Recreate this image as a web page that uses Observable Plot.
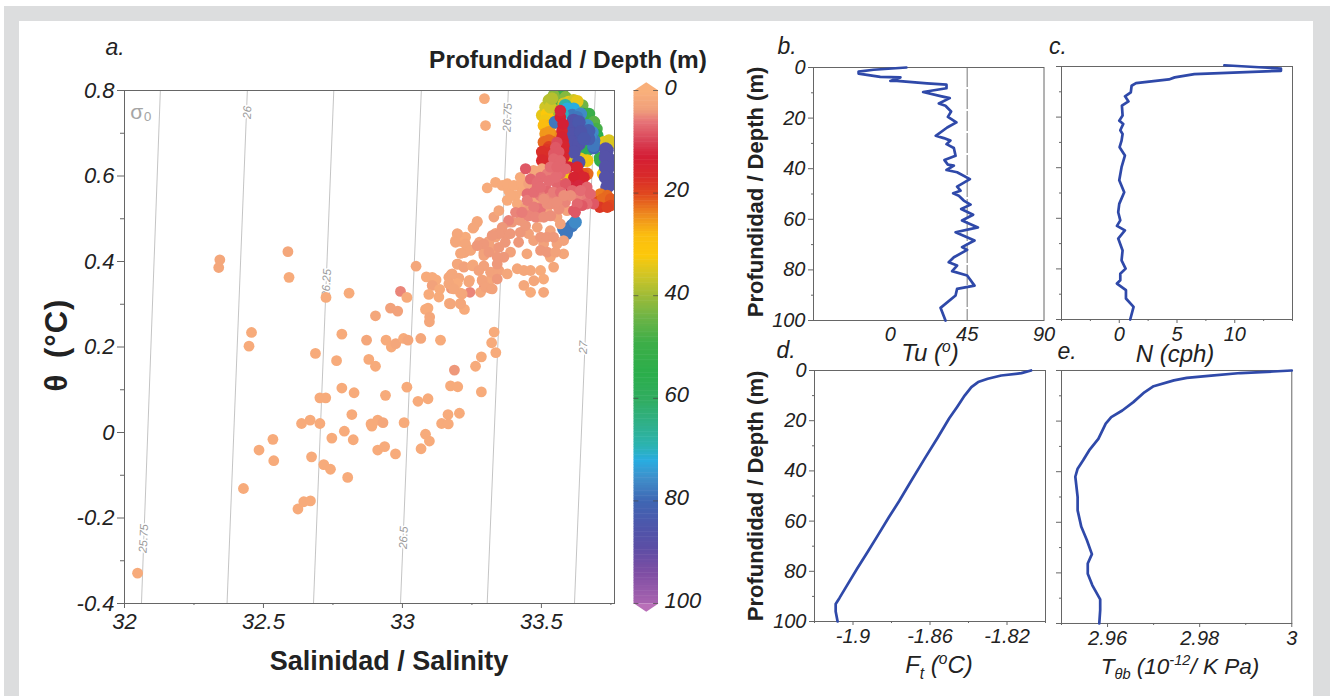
<!DOCTYPE html>
<html><head><meta charset="utf-8">
<script src="https://cdn.jsdelivr.net/npm/d3@7"></script>
<script src="https://cdn.jsdelivr.net/npm/@observablehq/plot@0.6"></script>
<style>
html,body{margin:0;padding:0;background:#fff}
#page{position:relative;width:1330px;height:696px;overflow:hidden;background:#fff;font-family:"Liberation Sans",Arial,sans-serif}
.band{position:absolute;background:#dcddde}
#page svg{position:absolute;overflow:visible;background:transparent}
.lab{position:absolute;white-space:nowrap;transform:translate(-50%,-50%);color:#222;line-height:1}
.lab sup{font-size:.65em;line-height:0}
.lab sub{font-size:.65em;line-height:0}
</style></head><body><div id="page"></div>
<script>
// [salinity, theta (°C), depth (m)], grouped in drawing order
const greenDots = [[33.551,.792,44],[33.575,.792,47],[33.556,.784,47],[33.562,.792,50],[33.568,.773,45],[33.545,.769,48],[33.640,.761,55],[33.647,.765,44],[33.652,.745,55],[33.671,.745,50],[33.682,.726,50],[33.689,.726,46],[33.698,.710,48],[33.701,.695,55],[33.664,.671,58],[33.659,.679,58],[33.665,.660,60],[33.647,.664,58],[33.712,.636,56],[33.711,.642,52]];
const yellowDots = [[33.503,.742,34],[33.515,.761,36],[33.527,.777,38],[33.544,.788,42],[33.587,.784,42],[33.551,.753,40],[33.533,.730,33],[33.520,.745,32],[33.514,.730,33],[33.532,.761,36],[33.538,.781,38],[33.598,.773,34],[33.580,.769,36],[33.616,.777,36],[33.629,.775,34],[33.730,.679,34],[33.748,.675,35],[33.725,.679,34],[33.743,.683,35],[33.592,.597,32],[33.587,.593,33],[33.652,.636,33],[33.628,.642,34],[33.641,.640,34],[33.665,.636,33],[33.593,.652,33],[33.611,.636,35],[33.722,.605,30]];
const orangeDots = [[33.509,.718,28],[33.533,.718,27],[33.520,.714,28],[33.515,.699,25],[33.539,.695,24],[33.527,.702,25],[33.509,.679,22],[33.539,.679,21],[33.527,.683,22],[33.527,.667,19],[33.521,.660,18],[33.514,.640,17],[33.503,.656,17],[33.539,.656,17],[33.503,.636,16],[33.539,.632,16],[33.665,.605,22]];
const blueDots = [[33.604,.749,75],[33.616,.757,72],[33.586,.765,68],[33.593,.757,72],[33.611,.742,78],[33.575,.745,70],[33.641,.745,76],[33.665,.718,76],[33.683,.702,76],[33.689,.683,78],[33.689,.666,80],[33.676,.691,76],[33.688,.671,78],[33.628,.737,78],[33.550,.726,78],[33.671,.687,82],[33.592,.472,78],[33.610,.484,78],[33.580,.476,78],[33.622,.492,76],[33.590,.465,78]];
const purpleDots = [[33.616,.730,86],[33.622,.714,86],[33.628,.691,86],[33.622,.667,86],[33.658,.699,84],[33.670,.706,82],[33.610,.718,86],[33.635,.726,84],[33.610,.699,86],[33.641,.703,85],[33.610,.679,86],[33.635,.675,86],[33.617,.656,86],[33.653,.687,84],[33.634,.632,86],[33.736,.660,87],[33.742,.640,87],[33.742,.621,87],[33.742,.597,87],[33.742,.578,87],[33.731,.663,87],[33.731,.644,87],[33.731,.621,87],[33.731,.597,87],[33.736,.574,87]];
const redDots = [[33.652,.605,21],[33.634,.605,15],[33.616,.582,14],[33.640,.589,16],[33.580,.660,15],[33.574,.706,15],[33.568,.738,14],[33.578,.683,14],[33.568,.753,12],[33.578,.722,13],[33.574,.691,14],[33.581,.671,15],[33.581,.644,15],[33.599,.621,13],[33.629,.621,15],[33.653,.597,15],[33.617,.597,14],[33.605,.574,12],[33.635,.578,12],[33.712,.558,23],[33.700,.539,20],[33.730,.546,21],[33.724,.535,20],[33.742,.539,19],[33.737,.554,22],[33.719,.546,22],[33.749,.546,21],[33.749,.531,20],[33.710,.527,18],[33.737,.527,19]];
const sparseDots = [[32.047,-.329,1],[32.339,.386,2],[32.343,.404,2],[32.588,.423,2],[32.592,.363,1],[32.457,.234,1],[32.448,.202,1],[32.428,-.131,1],[32.484,-.041,1],[32.534,-.016,1],[32.537,-.066,1],[32.624,-.179,1],[32.645,-.162,1],[32.669,-.160,1],[32.637,.021,1],[32.668,.029,1],[32.703,.021,1],[32.673,-.057,1],[32.717,-.075,1],[32.741,-.086,1],[32.803,-.105,1],[32.746,-.013,1],[32.791,.003,1],[32.823,-.017,1],[32.818,.042,1],[32.703,.081,1],[32.724,.081,1],[32.782,.104,1],[32.826,.093,1],[32.687,.185,1],[32.763,.168,1],[32.782,.230,1],[32.725,.316,1],[32.808,.326,1],[32.871,.216,2],[32.879,.171,1],[32.903,.155,1],[32.903,.273,2],[32.941,.216,1],[32.960,.200,1],[32.976,.208,2],[32.957,.291,3],[32.983,.284,3],[32.993,.330,5],[33.016,.316,1],[33.049,.389,2],[33.004,.220,1],[33.020,.216,2],[33.066,.220,2],[33.137,.216,1],[32.939,.087,1],[33.016,.106,1],[33.056,.073,1],[33.092,.079,1],[33.173,.109,1],[33.199,.107,1],[33.187,.146,4],[33.284,.095,1],[33.263,.155,1],[33.284,.177,1],[33.336,.187,1],[33.321,.210,1],[33.330,.235,1],[32.890,.015,1],[32.887,.020,1],[32.911,.029,1],[32.930,.023,2],[33.006,.023,1],[32.911,-.041,1],[32.936,-.033,1],[32.975,-.050,1],[33.083,-.004,1],[33.097,-.020,1],[33.067,-.038,1],[33.141,.021,1],[33.165,.020,1],[33.164,.042,1],[33.205,.045,1],[33.092,.291,1],[33.083,.288,1],[33.098,.270,2],[33.097,.259,2],[33.169,.302,1],[33.223,.288,1],[33.209,.302,1],[33.086,.364,1],[33.107,.363,1],[33.121,.357,1],[33.107,.344,3],[33.095,.323,1],[33.131,.317,1],[33.134,.335,1],[33.176,.337,4],[33.175,.369,1],[33.167,.363,2],[33.199,.394,1],[33.221,.388,1],[33.254,.392,1],[33.241,.356,1],[33.243,.328,5],[33.295,.341,5],[33.281,.328,2],[33.317,.337,2],[33.287,.357,1],[33.319,.359,2],[33.341,.380,2],[33.269,.494,1],[33.254,.478,1],[33.199,.464,1],[33.191,.449,1],[33.227,.457,1],[33.209,.447,1],[33.245,.427,1],[33.223,.421,2],[33.277,.445,3],[33.311,.447,3],[33.335,.466,3],[33.293,.420,3],[33.323,.427,3],[33.203,.361,2],[33.209,.326,1],[33.197,.349,1],[33.295,.781,1],[33.299,.718,1]];
const lightDots = [[33.197,.465,2],[33.191,.445,2],[33.227,.441,2],[33.209,.419,2],[33.245,.426,2],[33.278,.441,3],[33.293,.414,3],[33.317,.433,3],[33.335,.457,3],[33.365,.465,4],[33.382,.492,4],[33.329,.504,3],[33.347,.519,2],[33.269,.492,2],[33.257,.480,2],[33.197,.394,2],[33.221,.387,3],[33.179,.371,2],[33.251,.390,2],[33.167,.348,2],[33.185,.336,2],[33.239,.352,2],[33.287,.355,3],[33.299,.340,3],[33.323,.336,3],[33.215,.324,2],[33.173,.301,2],[33.209,.301,2],[33.317,.375,3],[33.347,.379,3],[33.377,.371,2],[33.413,.383,2],[33.389,.422,3],[33.418,.445,4],[33.448,.418,2],[33.437,.379,2],[33.461,.379,2],[33.497,.379,1],[33.508,.359,1],[33.473,.355,2],[33.437,.344,2],[33.461,.328,1],[33.508,.328,2],[33.544,.387,2],[33.532,.410,2],[33.580,.418,2],[33.556,.441,3],[33.508,.441,3],[33.472,.449,3],[33.454,.465,3],[33.485,.480,3],[33.532,.472,3],[33.580,.449,3],[33.365,.410,4],[33.347,.433,4],[33.370,.445,4],[33.388,.465,4],[33.424,.468,4],[33.395,.492,4],[33.424,.496,4],[33.377,.543,1],[33.413,.535,1],[33.305,.572,1],[33.335,.585,1],[33.359,.578,1],[33.382,.566,1],[33.406,.554,1],[33.424,.597,1],[33.430,.566,1],[33.377,.582,1],[33.401,.578,1],[33.389,.554,1],[33.430,.582,1],[33.472,.613,2],[33.502,.617,2],[33.454,.582,3],[33.496,.539,4],[33.544,.535,3],[33.473,.546,3],[33.443,.527,3],[33.454,.519,4],[33.496,.504,3],[33.520,.519,3],[33.556,.504,3],[33.592,.519,3],[33.568,.488,3],[33.443,.484,4],[33.497,.457,4],[33.520,.457,4],[33.544,.457,4],[33.497,.426,4],[33.521,.422,4],[33.551,.422,3],[33.407,.515,5],[33.382,.496,5],[33.359,.480,4],[33.347,.465,4],[33.323,.461,4],[33.293,.441,4],[33.311,.422,4],[33.269,.437,4],[33.341,.410,4],[33.341,.394,4],[33.293,.390,3],[33.275,.379,3],[33.341,.359,4]];
const pinkDots = [[33.443,.617,8],[33.461,.593,7],[33.485,.574,6.5],[33.521,.566,7],[33.556,.582,7],[33.550,.628,7.5],[33.544,.652,8],[33.556,.679,9],[33.568,.605,7],[33.556,.605,6.5],[33.521,.605,5.5],[33.496,.554,5.5],[33.532,.550,5],[33.586,.539,5],[33.485,.523,6.5],[33.496,.523,6],[33.532,.535,4.5],[33.616,.519,8],[33.664,.574,7],[33.652,.550,5.5],[33.688,.535,8],[33.628,.554,5],[33.551,.667,8],[33.563,.656,8],[33.544,.640,7],[33.568,.636,7],[33.532,.621,6.5],[33.556,.621,7],[33.587,.617,7],[33.497,.597,6.5],[33.527,.589,6.5],[33.551,.597,6.5],[33.587,.582,8],[33.485,.585,6.5],[33.449,.558,6.5],[33.449,.543,5.5],[33.473,.562,6.5],[33.497,.574,6.5],[33.544,.562,5.5],[33.569,.562,6.5],[33.611,.566,7],[33.641,.566,6.5],[33.676,.558,7],[33.664,.535,6.5],[33.646,.531,8],[33.629,.535,7],[33.622,.515,8],[33.473,.527,5.5],[33.454,.507,5],[33.430,.515,5.5],[33.479,.504,5],[33.509,.504,4.5],[33.533,.507,4.5],[33.563,.523,4.5],[33.521,.535,4.5],[33.556,.539,4.5],[33.605,.554,4.5],[33.509,.546,4.5],[33.581,.554,4.5]];

// Isopycnals: [sigma label, S at theta -0.4, S at theta 0.8, label S, label theta]
const isopycnals = [["25.75",32.061,32.129,32.069,-.248],["26",32.369,32.442,32.442,.749],["26.25",32.680,32.753,32.727,.349],["26.5",32.993,33.068,33.004,-.246],["26.75",33.305,33.381,33.378,.737],["27",33.619,33.694,33.651,.199]];

const thetaTicks = [-.4,-.2,0,.2,.4,.6,.8];
const thetaMinor = [-.3,-.1,.1,.3,.5,.7];
const salinityTicks = [32,32.5,33,33.5];
const salinityMinor = [32.25,32.75,33.25,33.75];
const depthTicks = [0,20,40,60,80,100];
const depthMinor = [10,30,50,70,90];

const depthStops = [0,3.6,6,9.5,12.7,16.6,20,24,28,32,36,40,44,49,55,60,65,69,72,75.4,80,85,89,94,100];
const colorStops = ["#f9b07b","#f09f7b","#e67377","#d94458","#d41e35","#d92a2a","#e0481f","#ee8a1f","#fbbd10","#fcc80a","#cfc526","#9dbb38","#6eb446","#3dae48","#2bae4b","#31ad60","#2fb08a","#2cb3b0","#29ace0","#3f8fca","#3f66b3","#4e55aa","#5c4ea5","#7f4ea4","#a964b0"];

// Vertical profiles [value, depth]
const tuProfile = [[9.4,0],[-9.8,.9],[-18.6,1.6],[-18.6,2.4],[-5.9,3.7],[5.9,3.9],[0,5.3],[3.9,5.3],[21.5,6.3],[32.9,6.8],[32.9,8.2],[19.2,9.7],[29.4,11.3],[34.8,12.1],[28.4,14.2],[32.3,15.1],[35.6,17.4],[33.7,19.5],[38.7,21.7],[33.3,23.7],[31.3,24.7],[26.6,27],[31.3,27.9],[35.2,28.9],[32.9,30.3],[37.2,31.8],[38.2,34.9],[31.7,36.6],[33.7,38.4],[37.2,38.8],[32.9,40.5],[39.1,41.4],[46.6,44.1],[39.1,47.1],[41.1,48.7],[36.8,49.7],[40.1,50.7],[43,52.6],[47,54.2],[41.5,55.9],[48.5,58.2],[42,60.5],[51.3,63.2],[38.2,65.1],[49.3,68.4],[42,71],[45,72.1],[37.2,75],[34.2,77],[39.1,78.3],[36.2,80.5],[45,82.2],[49.3,86.2],[39.1,87.5],[38.2,90.1],[29.4,95],[32.3,100]];
const nProfile = [[9.1,-.5],[14,.8],[14,1.7],[6.5,3],[4.8,4.3],[4.3,5.1],[1.45,6.6],[1.07,7.6],[1,10.2],[.5,11.8],[.8,13.8],[.23,15.5],[.29,19.4],[0,21.4],[.35,22.7],[.09,25.2],[.29,26.7],[.2,29.3],[.03,31.9],[.49,35.2],[.2,39.8],[0,45],[.43,49.7],[0,54.3],[-.09,57.6],[.09,60.8],[-.2,63],[.49,64.8],[-.09,68],[.29,72.7],[.2,76.6],[.55,79.9],[.09,81.9],[.09,84.5],[-.2,85.8],[.58,88.4],[.58,91.7],[1.24,95],[.95,100]];
const ftProfile = [[-1.8075,0],[-1.8125,1.06],[-1.823,2],[-1.83,3.3],[-1.835,4.6],[-1.8385,6.6],[-1.842,10],[-1.846,14.6],[-1.85,19],[-1.8562,27],[-1.8627,35],[-1.8702,44.5],[-1.876,52],[-1.8813,58.4],[-1.8871,65.7],[-1.8925,72.4],[-1.8979,79],[-1.9031,85.6],[-1.907,90.6],[-1.909,93],[-1.909,96],[-1.908,100]];
const tbProfile = [[3,0],[2.996,.4],[2.9889,1],[2.9825,2],[2.9772,2.9],[2.9744,3.9],[2.97,6.2],[2.968,8.6],[2.9656,12.5],[2.9632,15.8],[2.9608,18.4],[2.9596,21],[2.958,27],[2.956,31.6],[2.9547,35.5],[2.9535,38.8],[2.953,42],[2.9535,50],[2.9535,55.3],[2.9543,61.8],[2.9555,67],[2.9566,72.6],[2.9557,76.3],[2.9557,80.3],[2.9567,84.9],[2.9584,90.5],[2.9584,94.7],[2.9582,100]];

const page = document.getElementById("page");
const FONT = '"Liberation Sans",Arial,sans-serif';
const INK = "#222", AXIS = "#666", BLUE = "#2f49a9";

function band(l,t,w,h){const d=document.createElement("div");d.className="band";d.style.cssText=`left:${l}px;top:${t}px;width:${w}px;height:${h}px`;page.append(d);}
band(4,6,1326,15); band(4,6,15,690); band(1313,6,17,690);

function place(svg,left,top){svg.style.left=left+"px";svg.style.top=top+"px";page.append(svg);}
function label(html,x,y,css,rot){const s=document.createElement("div");s.className="lab";s.innerHTML=html;
  s.style.cssText=`left:${x}px;top:${y}px;${css}`+(rot?`;transform:translate(-50%,-50%) rotate(${rot}deg)`:"");page.append(s);}
const baseStyle = {background:"transparent",fontFamily:FONT,overflow:"visible"};
const colorScale = {type:"linear",domain:depthStops,range:colorStops,interpolate:"rgb"};

function axisSet(kind,major,minor,size,fmt,fontSize,pad){
  const A = kind==="x"?Plot.axisX:Plot.axisY;
  const out=[A({ticks:major,tickFormat:fmt,tickSize:size,tickPadding:pad,fontSize,fontStyle:"italic",label:null,stroke:AXIS,fill:INK})];
  if(minor&&minor.length) out.push(A({ticks:minor,tickFormat:()=>"",tickSize:Math.max(2,size-3),label:null,stroke:AXIS}));
  return out;
}
const fmtT = d=>d===0?"0":String(d);
const dots = (g,r)=>Plot.dot(g,{x:d=>d[0],y:d=>d[1],fill:d=>d[2],r,clip:true});

// Panel a: theta-S
place(Plot.plot({
  width:560,height:560,marginLeft:64,marginRight:6,marginTop:20,marginBottom:27,style:baseStyle,
  x:{domain:[32,33.763]},y:{domain:[-.4,.8]},color:colorScale,
  marks:[
    Plot.link(isopycnals,{x1:d=>d[1],x2:d=>d[2],y1:()=>-.4,y2:()=>.8,stroke:"#bdbdbd",strokeWidth:.9}),
    Plot.text(isopycnals,{x:d=>d[3],y:d=>d[4],text:d=>d[0],rotate:-87,fill:"#9a9a9a",stroke:"white",strokeWidth:3,fontSize:11.5,fontStyle:"italic"}),
    Plot.text(["σ₀"],{x:()=>32.06,y:()=>.75,text:d=>d,fill:"#a5a5a5",fontSize:21}),
    dots(greenDots,6.3),dots(yellowDots,6.3),dots(orangeDots,6.3),dots(blueDots,6.5),dots(purpleDots,6.8),dots(redDots,5.8),
    dots(sparseDots,5.4),dots(lightDots,5.4),dots(pinkDots,5.6),
    Plot.frame({stroke:AXIS,strokeWidth:1}),
    ...axisSet("x",salinityTicks,salinityMinor,5,fmtT,22,5),
    ...axisSet("y",thetaTicks,thetaMinor,7,fmtT,22,3)
  ]}),60,70);

// Colour bar
const ramp=d3.range(0,100,.5);
place(Plot.plot({
  width:90,height:560,marginLeft:13.5,marginRight:52,marginTop:20,marginBottom:27,style:baseStyle,
  x:{domain:[0,1],axis:null},y:{domain:[100,0]},color:colorScale,
  marks:[
    Plot.rect(ramp,{x1:()=>0,x2:()=>1,y1:d=>d,y2:d=>d+.6,fill:d=>d}),
    Plot.line([[0,0],[.5,-1.6],[1,0]],{x:d=>d[0],y:d=>d[1],fill:"#f9b07b",stroke:"none"}),
    Plot.line([[0,100],[.5,101.6],[1,100]],{x:d=>d[0],y:d=>d[1],fill:"#b96fb8",stroke:"none"}),
    Plot.ruleY(depthTicks,{x1:()=>0,x2:()=>.2,stroke:"#444",strokeOpacity:.7}),
    Plot.ruleY(depthTicks,{x1:()=>.8,x2:()=>1,stroke:"#444",strokeOpacity:.7}),
    Plot.axisY({anchor:"right",ticks:depthTicks,tickFormat:fmtT,tickSize:0,tickPadding:6,fontSize:22,fontStyle:"italic",label:null,fill:INK,dy:-3})
  ]}),620,70);

// Profile panels
function profile(o){
  const W=o.x1-o.x0+o.ml+20, H=o.y1-o.y0+12+34;
  place(Plot.plot({
    width:W,height:H,marginLeft:o.ml,marginRight:20,marginTop:12,marginBottom:34,style:baseStyle,
    x:{domain:o.domain},y:{domain:[100,0]},
    marks:[
      ...(o.extra||[]),
      Plot.frame({stroke:AXIS,strokeWidth:1}),
      ...axisSet("x",o.ticks,o.minor,o.xSize,o.fmt||fmtT,20,o.pad??3),
      ...axisSet("y",depthTicks,depthMinor,5,o.showY?fmtT:()=>"",20,3),
      Plot.line(o.data,{x:d=>d[0],y:d=>d[1],stroke:BLUE,strokeWidth:2.7,strokeLinejoin:"round"})
    ]}),o.x0-o.ml,o.y0-12);
}
profile({x0:813,x1:1043.5,y0:67,y1:320,ml:60,domain:[-45,90],ticks:[0,45,90],minor:[],xSize:0,pad:6,showY:true,data:tuProfile,
  extra:[Plot.ruleX([45],{stroke:"#555",strokeWidth:.8,strokeDasharray:"20,2"})]});
profile({x0:1060.7,x1:1291.7,y0:66,y1:319,ml:10,domain:[-5,15],ticks:[0,5,10],minor:[-5,-2.5,2.5,7.5,12.5,15],xSize:4,pad:3,showY:false,data:nProfile});
profile({x0:814,x1:1045,y0:370,y1:621,ml:60,domain:[-1.92,-1.80],ticks:[-1.9,-1.86,-1.82],minor:[-1.92,-1.88,-1.84,-1.80],xSize:4,pad:3,showY:true,data:ftProfile,fmt:d=>String(d)});
profile({x0:1060.7,x1:1291,y0:370,y1:623,ml:10,domain:[2.95,3],ticks:[2.96,2.98,3],minor:[2.95,2.97,2.99],xSize:4,pad:3,showY:false,data:tbProfile,fmt:d=>String(d)});

// Text labels
const ital="font-style:italic;font-size:23px;";
const axisLab="font-style:italic;font-size:24px;";
label("a.",115,47,ital);
label("b.",787,46,ital);
label("c.",1058,46,ital);
label("d.",786,350,ital);
label("e.",1067,351,ital);
label("Profundidad / Depth (m)",568,60,"font-weight:bold;font-size:24.4px;");
label("θ (°C)",56,345,"font-weight:bold;font-size:31px;letter-spacing:1px;word-spacing:6px;",-90);
label("Salinidad / Salinity",389,661,"font-weight:bold;font-size:27px;");
label("Profundidad / Depth (m)",756,192,"font-weight:bold;font-size:22px;",-90);
label("Profundidad / Depth (m)",756,496,"font-weight:bold;font-size:22px;",-90);
label("Tu (<sup>o</sup>)",930,353,axisLab);
label("N (cph)",1175,354,axisLab);
label("F<sub>t</sub> (<sup>o</sup>C)",939,665,axisLab);
label("T<sub>θb</sub> (10<sup>-12</sup>/ K Pa)",1180,667,"font-style:italic;font-size:22.5px;");
</script></body></html>
